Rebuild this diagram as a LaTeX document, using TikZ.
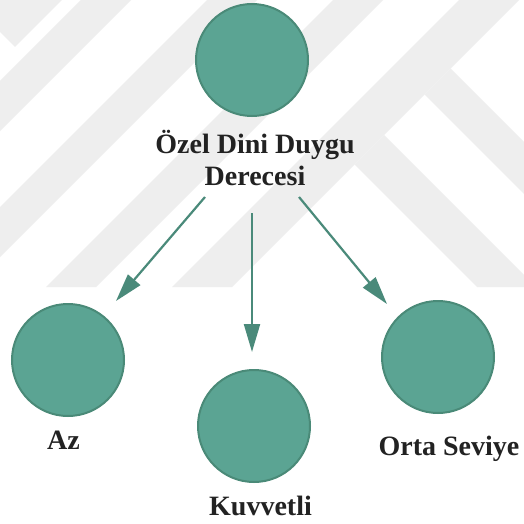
\documentclass[tikz,border=0pt]{standalone}
\usepackage{fontspec}
\setmainfont{Liberation Serif}
\usetikzlibrary{arrows.meta}
\definecolor{tealfill}{RGB}{91,164,147}
\definecolor{tealline}{RGB}{74,138,120}
\definecolor{arrowc}{RGB}{74,138,122}
\definecolor{wm}{RGB}{238,238,238}
\definecolor{txt}{RGB}{34,34,34}
\begin{document}
\begin{tikzpicture}[x=1pt,y=-1pt,
  bubble/.style={circle,fill=tealfill,draw=tealline,line width=2pt,minimum size=112pt,inner sep=0pt},
  lbl/.style={font=\fontsize{28}{32}\selectfont\bfseries,text=txt,inner sep=0pt,anchor=base},
  arr/.style={draw=arrowc,line width=2.2pt,-{Triangle[length=28pt,width=16pt]}},
  wmark/.style={fill=wm,draw=none}]
\useasboundingbox (0,0) rectangle (524,524);
\fill[white] (0,0) rectangle (524,524);
% watermark
\begin{scope}
  \clip (0,0) rectangle (524,287);
  % bands rising to the right
  \fill[wmark] (81,0) -- (131,0) -- (-156,287) -- (-206,287) -- cycle;
  \fill[wmark] (207,0) -- (257,0) -- (-30,287) -- (-80,287) -- cycle;
  \fill[wmark] (333,0) -- (383,0) -- (96,287) -- (46,287) -- cycle;
  \fill[wmark] (459,0) -- (519,0) -- (232,287) -- (172,287) -- cycle;
  % bands falling to the right
  \fill[wmark] (450.5,68.5) -- (669,287) -- (617,287) -- (424.5,94.5) -- cycle;
  \fill[wmark] (384,135) -- (536,287) -- (477,287) -- (354.5,164.5) -- cycle;
  % corner piece
  \fill[wmark] (0,0) -- (62,0) -- (15,47) -- (0,32) -- cycle;
\end{scope}
% nodes
\node[bubble] (top) at (252,60) {};
\node[lbl] (t1) at (255,153) {Özel Dini Duygu};
\node[lbl] (t2) at (255,185) {Derecesi};
\node[bubble] (az) at (68,360) {};
\node[lbl] (laz) at (63.5,449) {Az};
\node[bubble] (kuv) at (254,426) {};
\node[lbl] (lkuv) at (260.5,515) {Kuvvetli};
\node[bubble] (orta) at (438,357) {};
\node[lbl] (lorta) at (449,455) {Orta Seviye};
% connectors
\coordinate (sL) at (205,197);
\coordinate (eL) at (116,301);
\coordinate (sC) at (252,213);
\coordinate (eC) at (252,352);
\coordinate (sR) at (299,197);
\coordinate (eR) at (387,304);
\draw[arr] (sL) -- (eL);
\draw[arr] (sC) -- (eC);
\draw[arr] (sR) -- (eR);
\end{tikzpicture}
\end{document}
